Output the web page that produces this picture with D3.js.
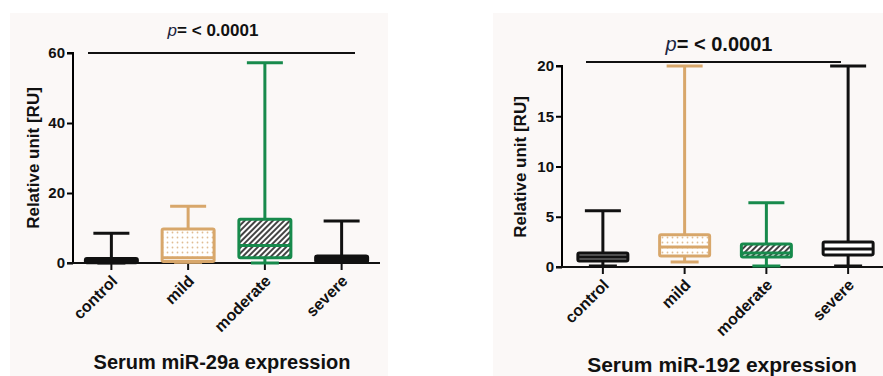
<!DOCTYPE html>
<html>
<head>
<meta charset="utf-8">
<script src="https://cdn.jsdelivr.net/npm/d3@7"></script>
<style>
  body { margin: 0; background: #fff; }
  text { font-family: "Liberation Sans", Arial, sans-serif; font-weight: bold; fill: #111; }
</style>
</head>
<body>
<div id="chart"></div>
<script>
var width = 883,
    height = 376;

// groups on both x axes
var groups = ["control", "mild", "moderate", "severe"];

// Serum miR-29a (left panel)
var mir29aMin    = [0,   0.2, 0,    0.2];
var mir29aQ1     = [0.1, 0.4, 1.5,  0.3];
var mir29aMedian = [0.6, 1.5, 5.0,  1.0];
var mir29aQ3     = [1.3, 9.7, 12.5, 2.0];
var mir29aMax    = [8.5, 16.2, 57.2, 12.0];
var mir29aTicks  = [0, 20, 40, 60];

// Serum miR-192 (right panel)
var mir192Min    = [0.1, 0.5, 0.1, 0.1];
var mir192Q1     = [0.6, 1.1, 1.0, 1.2];
var mir192Median = [1.0, 2.0, 1.4, 1.8];
var mir192Q3     = [1.4, 3.2, 2.3, 2.5];
var mir192Max    = [5.6, 20,  6.4, 20];
var mir192Ticks  = [0, 5, 10, 15, 20];

var tan = "#d8a76b", green = "#178a4c";

var svg = d3.select("#chart").append("svg")
    .attr("width", width)
    .attr("height", height);

var defs = svg.append("defs");

var dots = defs.append("pattern")
    .attr("id", "dots").attr("patternUnits", "userSpaceOnUse")
    .attr("width", 5).attr("height", 5);
dots.append("rect").attr("width", 5).attr("height", 5).attr("fill", "#fff");
dots.append("circle").attr("cx", 2.5).attr("cy", 2.5).attr("r", 0.9).attr("fill", "#e0bd93");

var hatch = defs.append("pattern")
    .attr("id", "hatch").attr("patternUnits", "userSpaceOnUse")
    .attr("width", 4).attr("height", 4)
    .attr("patternTransform", "rotate(45)");
hatch.append("rect").attr("width", 4).attr("height", 4).attr("fill", "#fff");
hatch.append("rect").attr("width", 2).attr("height", 4).attr("fill", "#444");

// panel backgrounds
svg.append("rect").attr("x", 10).attr("y", 13).attr("width", 378).attr("height", 363).attr("fill", "#fbf8f7");
svg.append("rect").attr("x", 493).attr("y", 13).attr("width", 390).attr("height", 363).attr("fill", "#fbf8f7");

var panels = [
  {
    min: mir29aMin, q1: mir29aQ1, med: mir29aMedian, q3: mir29aQ3, max: mir29aMax,
    ticks: mir29aTicks, domain: [0, 60],
    x0: 73, x1: 380, y0: 263, y1: 53,
    stroke: ["#111", tan, green, "#111"],
    fill: ["#8c8c8c", "url(#dots)", "url(#hatch)", "#111"],
    bar: [88, 355, 53],
    pText: [213, 36, 17],
    yLabel: [39, 158, 17],
    title: "Serum miR-29a expression", titlePos: [222, 369, 20],
    catFont: 16, tickFont: 15, boxW: 52
  },
  {
    min: mir192Min, q1: mir192Q1, med: mir192Median, q3: mir192Q3, max: mir192Max,
    ticks: mir192Ticks, domain: [0, 20],
    x0: 562, x1: 889, y0: 267, y1: 66,
    stroke: ["#111", tan, green, "#111"],
    fill: ["#8c8c8c", "url(#dots)", "url(#hatch)", "#fff"],
    bar: [586, 841, 62],
    pText: [719, 51, 20],
    yLabel: [526, 167, 17],
    title: "Serum miR-192 expression", titlePos: [722, 372, 21],
    catFont: 16, tickFont: 15, boxW: 50
  }
];

panels.forEach(function(p) {
  var x = d3.scaleBand().domain(groups).range([p.x0, p.x1]).padding(0);
  var y = d3.scaleLinear().domain(p.domain).range([p.y0, p.y1]);
  var g = svg.append("g");

  // y axis
  var yAxis = g.append("g")
      .attr("transform", "translate(" + p.x0 + ",0)")
      .call(d3.axisLeft(y).tickValues(p.ticks).tickSize(6).tickPadding(2));
  yAxis.select(".domain").attr("stroke-width", 2).attr("d", "M0," + p.y0 + "V" + p.y1 + "H-6");
  yAxis.selectAll(".tick line").attr("stroke-width", 2);
  yAxis.selectAll("text").style("font-size", p.tickFont + "px").attr("fill", "#111");

  // x axis
  g.append("line")
      .attr("x1", p.x0 - 6).attr("x2", Math.min(p.x1, width))
      .attr("y1", p.y0).attr("y2", p.y0)
      .attr("stroke", "#111").attr("stroke-width", 2);

  var centers = groups.map(function(d) { return x(d) + x.bandwidth() / 2; });

  g.selectAll(".xtick").data(groups).enter().append("line")
      .attr("x1", function(d, i) { return centers[i]; })
      .attr("x2", function(d, i) { return centers[i]; })
      .attr("y1", p.y0).attr("y2", p.y0 + 7)
      .attr("stroke", "#111").attr("stroke-width", 2);

  g.selectAll(".cat").data(groups).enter().append("text")
      .attr("transform", function(d, i) {
        return "translate(" + (centers[i] + 7) + "," + (p.y0 + 19) + ") rotate(-45)";
      })
      .attr("text-anchor", "end")
      .style("font-size", p.catFont + "px")
      .text(function(d) { return d; });

  // boxes
  var box = g.selectAll(".box").data(groups).enter().append("g");
  var hw = p.boxW / 2;

  box.append("line")
      .attr("x1", function(d, i) { return centers[i]; })
      .attr("x2", function(d, i) { return centers[i]; })
      .attr("y1", function(d, i) { return y(p.max[i]); })
      .attr("y2", function(d, i) { return y(p.min[i]); })
      .attr("stroke", function(d, i) { return p.stroke[i]; })
      .attr("stroke-width", 3);

  box.append("line")
      .attr("x1", function(d, i) { return centers[i] - 18; })
      .attr("x2", function(d, i) { return centers[i] + 18; })
      .attr("y1", function(d, i) { return y(p.max[i]); })
      .attr("y2", function(d, i) { return y(p.max[i]); })
      .attr("stroke", function(d, i) { return p.stroke[i]; })
      .attr("stroke-width", 3);

  box.append("line")
      .attr("x1", function(d, i) { return centers[i] - 14; })
      .attr("x2", function(d, i) { return centers[i] + 14; })
      .attr("y1", function(d, i) { return y(p.min[i]); })
      .attr("y2", function(d, i) { return y(p.min[i]); })
      .attr("stroke", function(d, i) { return p.stroke[i]; })
      .attr("stroke-width", 3);

  box.append("rect")
      .attr("x", function(d, i) { return centers[i] - hw; })
      .attr("width", p.boxW)
      .attr("y", function(d, i) { return y(p.q3[i]); })
      .attr("height", function(d, i) { return y(p.q1[i]) - y(p.q3[i]); })
      .attr("fill", function(d, i) { return p.fill[i]; })
      .attr("stroke", function(d, i) { return p.stroke[i]; })
      .attr("stroke-width", 3)
      .attr("rx", 1.5);

  box.append("line")
      .attr("x1", function(d, i) { return centers[i] - hw; })
      .attr("x2", function(d, i) { return centers[i] + hw; })
      .attr("y1", function(d, i) { return y(p.med[i]); })
      .attr("y2", function(d, i) { return y(p.med[i]); })
      .attr("stroke", function(d, i) { return p.stroke[i]; })
      .attr("stroke-width", 3);

  // significance bar
  g.append("line")
      .attr("x1", p.bar[0]).attr("x2", p.bar[1])
      .attr("y1", p.bar[2]).attr("y2", p.bar[2])
      .attr("stroke", "#111").attr("stroke-width", 2);

  var pt = g.append("text")
      .attr("x", p.pText[0]).attr("y", p.pText[1])
      .attr("text-anchor", "middle")
      .style("font-size", p.pText[2] + "px");
  pt.append("tspan").style("font-style", "italic").style("font-weight", "normal").attr("fill", "#1a2440").text("p");
  pt.append("tspan").text("= < 0.0001");

  g.append("text")
      .attr("transform", "translate(" + p.yLabel[0] + "," + p.yLabel[1] + ") rotate(-90)")
      .attr("text-anchor", "middle")
      .style("font-size", p.yLabel[2] + "px")
      .text("Relative unit [RU]");

  g.append("text")
      .attr("x", p.titlePos[0]).attr("y", p.titlePos[1])
      .attr("text-anchor", "middle")
      .style("font-size", p.titlePos[2] + "px")
      .text(p.title);
});
</script>
</body>
</html>
